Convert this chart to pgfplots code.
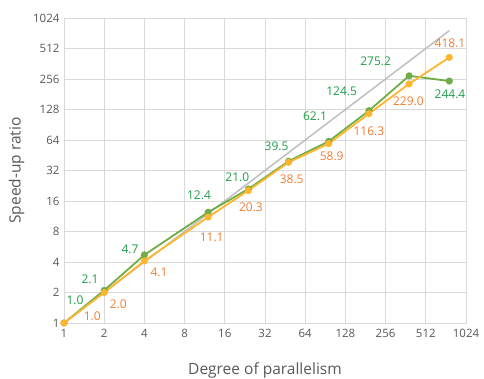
\documentclass[border=0pt]{standalone}
\usepackage{pgfplots}
\pgfplotsset{compat=1.18}
\usepackage{fontspec}
\setmainfont{Open Sans}
\definecolor{gridc}{HTML}{D9D9D9}
\definecolor{txt}{HTML}{595959}
\definecolor{gline}{HTML}{70AD47}
\definecolor{glab}{HTML}{1E9E48}
\definecolor{oline}{HTML}{FFB62E}
\definecolor{olab}{HTML}{F07D32}
\definecolor{ideal}{HTML}{BFBFBF}
\begin{document}
\begin{tikzpicture}[x=1pt,y=1pt]
\useasboundingbox (-64,-55) rectangle (420,323);
\begin{axis}[
  at={(0,0)}, anchor=south west,
  scale only axis, width=402pt, height=305pt,
  xmode=log, ymode=log, log basis x=2, log basis y=2,
  xmin=1, xmax=1024, ymin=1, ymax=1024,
  xtick={1,2,4,8,16,32,64,128,256,512,1024},
  xticklabels={1,2,4,8,16,32,64,128,256,512,1024},
  ytick={1,2,4,8,16,32,64,128,256,512,1024},
  yticklabels={1,2,4,8,16,32,64,128,256,512,1024},
  grid=major, major grid style={gridc, line width=0.9pt},
  axis line style={gridc, line width=0.9pt},
  tick style={draw=none},
  ticklabel style={font=\fontsize{11.5}{13}\selectfont, text=txt},
  xticklabel style={yshift=-3pt},
  yticklabel style={xshift=-1pt},
  xlabel={Degree of parallelism},
  ylabel={Speed-up ratio},
  label style={font=\fontsize{15.5}{18}\selectfont, text=txt},
  xlabel style={yshift=-18pt},
  ylabel style={yshift=2pt},
  clip=false,
]
\addplot[ideal, line width=1.5pt, no marks] coordinates {(1,1) (768,768)};
\addplot[gline, line width=1.8pt, mark=*, mark size=2.6pt, mark options={fill=gline, draw=gline}] coordinates {
(1,1.0) (2,2.1) (4,4.7) (12,12.4) (24,21.0) (48,39.5) (96,62.1) (192,124.5) (384,275.2) (768,244.4)};
\addplot[oline, line width=1.8pt, mark=*, mark size=2.6pt, mark options={fill=oline, draw=oline}] coordinates {
(1,1.0) (2,2.0) (4,4.1) (12,11.1) (24,20.3) (48,38.5) (96,58.9) (192,116.3) (384,229.0) (768,418.1)};
\begin{scope}[every node/.style={font=\fontsize{12}{14}\selectfont, text=glab}]
\node at (axis cs:1.21,1.69) {1.0};
\node at (axis cs:1.566,2.70) {2.1};
\node at (axis cs:3.12,5.34) {4.7};
\node at (axis cs:10.25,18.3) {12.4};
\node at (axis cs:19.85,27.4) {21.0};
\node at (axis cs:39.1,55) {39.5};
\node at (axis cs:75.8,110) {62.1};
\node at (axis cs:120,195) {124.5};
\node at (axis cs:215.8,379) {275.2};
\node at (axis cs:777,182) {244.4};
\end{scope}
\begin{scope}[every node/.style={font=\fontsize{12}{14}\selectfont, text=olab}]
\node at (axis cs:1.63,1.154) {1.0};
\node at (axis cs:2.55,1.54) {2.0};
\node at (axis cs:5.15,3.14) {4.1};
\node at (axis cs:12.76,7.0) {11.1};
\node at (axis cs:25.1,13.87) {20.3};
\node at (axis cs:50.7,26.4) {38.5};
\node at (axis cs:101,44.5) {58.9};
\node at (axis cs:192,78.5) {116.3};
\node at (axis cs:379,152.9) {229.0};
\node at (axis cs:777,576) {418.1};
\end{scope}
\end{axis}
\end{tikzpicture}
\end{document}
